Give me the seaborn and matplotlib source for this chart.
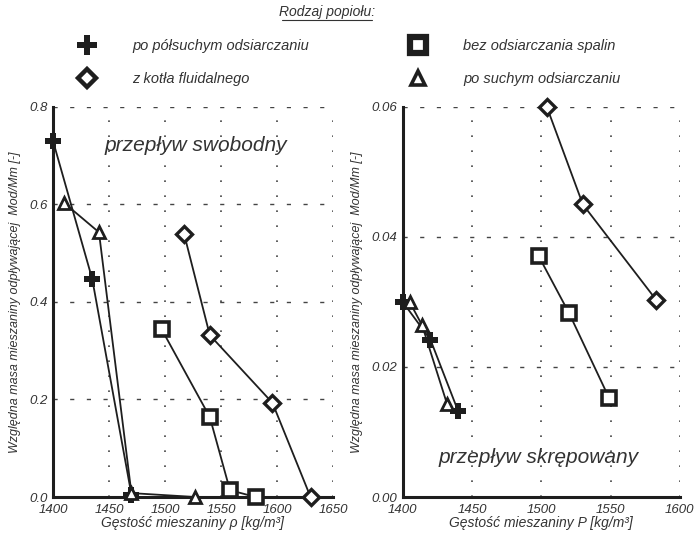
import matplotlib
matplotlib.use("Agg")
import matplotlib.pyplot as plt
import seaborn as sns
import pandas as pd
from matplotlib.lines import Line2D

sns.set_theme(style="white")
plt.rcParams['font.family'] = ['Liberation Sans', 'DejaVu Sans']

# ---- data: free flow (left) ----
free_plus_x = [1400, 1435, 1470]
free_plus_y = [0.73, 0.447, 0.005]
free_tri_x = [1410, 1441, 1470, 1527]
free_tri_y = [0.603, 0.543, 0.008, 0.0]
free_dia_x = [1517, 1540, 1596, 1630]
free_dia_y = [0.54, 0.332, 0.193, 0.0]
free_sq_x = [1497, 1540, 1558, 1581]
free_sq_y = [0.344, 0.164, 0.014, 0.0]

# ---- data: hindered flow (right) ----
hind_plus_x = [1400, 1420, 1440]
hind_plus_y = [0.030, 0.0242, 0.0132]
hind_tri_x = [1405, 1414, 1432]
hind_tri_y = [0.0300, 0.0264, 0.0143]
hind_sq_x = [1498, 1520, 1549]
hind_sq_y = [0.0371, 0.0283, 0.0152]
hind_dia_x = [1504, 1530, 1583]
hind_dia_y = [0.0600, 0.0450, 0.0303]

series_labels = ["po półsuchym odsiarczaniu", "z kotła fluidalnego",
                 "bez odsiarczania spalin", "po suchym odsiarczaniu"]
left_xticks = [1400, 1450, 1500, 1550, 1600, 1650]
left_yticks = [0.0, 0.2, 0.4, 0.6, 0.8]
right_xticks = [1400, 1450, 1500, 1550, 1600]
right_yticks = [0.00, 0.02, 0.04, 0.06]

INK = "#1e1e1e"
styles = {
    "plus": dict(marker="P", ms=12, mfc=INK, mec=INK, mew=0.0),
    "dia": dict(marker="D", ms=8, mfc="white", mec=INK, mew=2.4),
    "sq": dict(marker="s", ms=10, mfc="white", mec=INK, mew=2.6),
    "tri": dict(marker="^", ms=8.5, mfc="white", mec=INK, mew=2.0),
}
fig = plt.figure(figsize=(6.98, 5.38), dpi=100)
fig.patch.set_facecolor("white")
axL = fig.add_axes([0.076, 0.0762, 0.401, 0.725])
axR = fig.add_axes([0.577, 0.0762, 0.397, 0.725])


def draw(ax, x, y, key):
    df = pd.DataFrame({"x": x, "y": y})
    st = styles[key]
    sns.lineplot(data=df, x="x", y="y", ax=ax, sort=False, color=INK, lw=1.3,
                 marker=st["marker"], markersize=st["ms"],
                 markerfacecolor=st["mfc"], markeredgecolor=st["mec"],
                 markeredgewidth=st["mew"], clip_on=False, zorder=5)


draw(axL, free_plus_x, free_plus_y, "plus")
draw(axL, free_tri_x, free_tri_y, "tri")
draw(axL, free_dia_x, free_dia_y, "dia")
draw(axL, free_sq_x, free_sq_y, "sq")
draw(axR, hind_plus_x, hind_plus_y, "plus")
draw(axR, hind_tri_x, hind_tri_y, "tri")
draw(axR, hind_sq_x, hind_sq_y, "sq")
draw(axR, hind_dia_x, hind_dia_y, "dia")


def style_axes(ax, xticks, yticks, yfmt, xlabel):
    ax.set_xlim(xticks[0], xticks[-1])
    ax.set_ylim(yticks[0], yticks[-1])
    ax.set_xticks(xticks)
    ax.set_yticks(yticks)
    ax.set_yticklabels([yfmt.format(v) for v in yticks])
    ax.set_xticklabels([str(v) for v in xticks])
    for s in ["top", "right"]:
        ax.spines[s].set_visible(False)
    for s in ["left", "bottom"]:
        ax.spines[s].set_color(INK)
        ax.spines[s].set_linewidth(2.2)
    ax.tick_params(axis="both", direction="in", length=7, width=2.2,
                   color=INK, labelsize=9.5, labelcolor="#333333", pad=4)
    ax.tick_params(axis="x", pad=5)
    for lab in ax.get_xticklabels() + ax.get_yticklabels():
        lab.set_fontstyle("italic")
    for xv in xticks[1:]:
        ax.axvline(xv, color="#444444", lw=1.2, ls=(0, (1, 8)), zorder=1)
    for yv in yticks[1:]:
        ax.axhline(yv, color="#444444", lw=1.0, ls=(0, (3, 9)), zorder=1)
    ax.set_xlabel(xlabel, fontsize=10, fontstyle="italic", color="#333333", labelpad=0)
    ax.set_ylabel("Względna masa mieszaniny odpływającej  Mod/Mm [-]", fontsize=9,
                  fontstyle="italic", color="#333333", labelpad=6)
    ax.set_facecolor("white")


style_axes(axL, left_xticks, left_yticks, "{:.1f}", "Gęstość mieszaniny ρ [kg/m³]")
style_axes(axR, right_xticks, right_yticks, "{:.2f}", "Gęstość mieszaniny P [kg/m³]")

axL.text(0.51, 0.9, "przepływ swobodny", transform=axL.transAxes, fontsize=15,
         fontstyle="italic", color="#333333", ha="center", va="center")
axR.text(0.49, 0.1, "przepływ skrępowany", transform=axR.transAxes, fontsize=15,
         fontstyle="italic", color="#333333", ha="center", va="center")

# legend
handles = [
    Line2D([], [], ls="none", marker="P", ms=14, mfc=INK, mec=INK, mew=0),
    Line2D([], [], ls="none", marker="D", ms=9, mfc="white", mec=INK, mew=3.2),
    Line2D([], [], ls="none", marker="s", ms=12, mfc="white", mec=INK, mew=4.5),
    Line2D([], [], ls="none", marker="^", ms=10, mfc="white", mec=INK, mew=2.6),
]
leg = fig.legend(handles, series_labels, ncol=2, loc="upper left",
                 bbox_to_anchor=(0.095, 0.952), frameon=False,
                 prop={"style": "italic", "size": 10.5}, handletextpad=2.6,
                 columnspacing=7.0, labelspacing=1.3, handlelength=1.0)
for t in leg.get_texts():
    t.set_color("#333333")

fig.text(0.469, 0.978, "Rodzaj popiołu:", fontsize=10, fontstyle="italic",
         color="#333333", ha="center", va="center")
fig.add_artist(Line2D([0.4045, 0.5335], [0.963, 0.963], color="#333333", lw=0.8,
                      transform=fig.transFigure))

fig.savefig("out.png", dpi=100, facecolor="white")
